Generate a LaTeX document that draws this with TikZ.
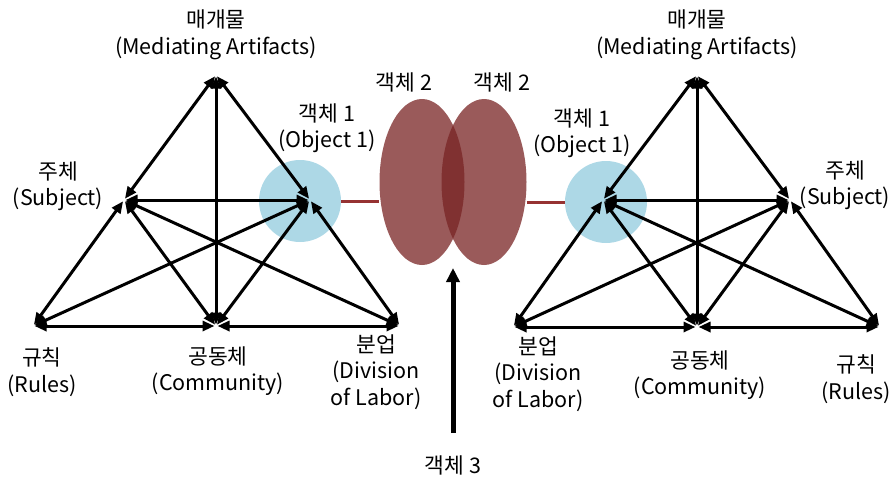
\documentclass[tikz,border=0pt]{standalone}
\usepackage{fontspec}
\setmainfont{Noto Sans CJK KR}
\usetikzlibrary{arrows.meta,shapes.geometric}
\definecolor{objblue}{RGB}{173,216,230}
\definecolor{linkred}{RGB}{150,50,50}
\definecolor{ellred}{RGB}{120,35,35}
\begin{document}
\begin{tikzpicture}[x=1pt,y=-1pt,
  dbl/.style={line width=3pt,{Triangle[length=12pt,width=10pt]}-{Triangle[length=12pt,width=10pt]},shorten <=1.5pt,shorten >=1.5pt},
  lbl/.style={align=center,font=\fontsize{21.5}{26.5}\selectfont,inner sep=0pt},
  objcircle/.style={circle,fill=objblue,minimum size=82pt,inner sep=0pt},
  objell/.style={ellipse,fill=ellred,fill opacity=0.75,minimum width=85pt,minimum height=166pt,inner sep=0pt},
  link/.style={draw=linkred,line width=3pt}]
\useasboundingbox (0,0) rectangle (892,477);

% object 1 circles
\node[objcircle] (c1) at (300,201) {};
\node[objcircle] (c2) at (606,202) {};
% object 2 ellipses
\node[objell] (e1) at (422,182) {};
\node[objell] (e2) at (484,182) {};
\draw[link] (c1.east) -- (e1.west |- c1.east);
\draw[link] (e2.east |- c2.west) -- (c2.west);

% left triangle vertices
\coordinate (M1) at (216,75);
\coordinate (S1) at (124,200);
\coordinate (O1) at (310,200);
\coordinate (R1) at (33,326);
\coordinate (C1) at (216,326);
\coordinate (D1) at (400,326);
% right triangle vertices
\coordinate (M2) at (697,75);
\coordinate (O2) at (603,200);
\coordinate (S2) at (790,200);
\coordinate (D2) at (513,327);
\coordinate (C2) at (697,327);
\coordinate (R2) at (880,327);

\foreach \i in {1,2}{
  \draw[dbl] (M\i) -- (S\i);
  \draw[dbl] (M\i) -- (O\i);
  \draw[dbl] (M\i) -- (C\i);
  \draw[dbl] (S\i) -- (O\i);
  \draw[dbl] (S\i) -- (R\i);
  \draw[dbl] (S\i) -- (C\i);
  \draw[dbl] (S\i) -- (D\i);
  \draw[dbl] (O\i) -- (R\i);
  \draw[dbl] (O\i) -- (C\i);
  \draw[dbl] (O\i) -- (D\i);
  \draw[dbl] (R\i) -- (C\i);
  \draw[dbl] (C\i) -- (D\i);
}

% left labels
\node[lbl] (lm1) at (216,35) {매개물\\(Mediating Artifacts)};
\node[lbl] (lo1) at (327,128) {객체 1\\(Object 1)};
\node[lbl] (ls1) at (58,186) {주체\\(Subject)};
\node[lbl] (lr1) at (42,372) {규칙\\(Rules)};
\node[lbl] (lc1) at (218,371) {공동체\\(Community)};
\node[lbl] (ld1) at (376,372) {분업\\(Division\\of Labor)};
% right labels
\node[lbl] (lm2) at (697,35) {매개물\\(Mediating Artifacts)};
\node[lbl] (lo2) at (582,133) {객체 1\\(Object 1)};
\node[lbl] (ls2) at (845,185) {주체\\(Subject)};
\node[lbl] (ld2) at (538,374) {분업\\(Division\\of Labor)};
\node[lbl] (lc2) at (700,375) {공동체\\(Community)};
\node[lbl] (lr2) at (856,379) {규칙\\(Rules)};
% object 2 / 3 labels
\node[lbl] (lob2a) at (404,82) {객체 2};
\node[lbl] (lob2b) at (502,82) {객체 2};
\node[lbl] (lob3) at (453,465) {객체 3};

\coordinate (a3s) at (453,433);
\coordinate (a3e) at (453,268);
\draw[line width=5pt,-{Triangle[length=14pt,width=13pt]}] (a3s) -- (a3e);
\end{tikzpicture}
\end{document}
